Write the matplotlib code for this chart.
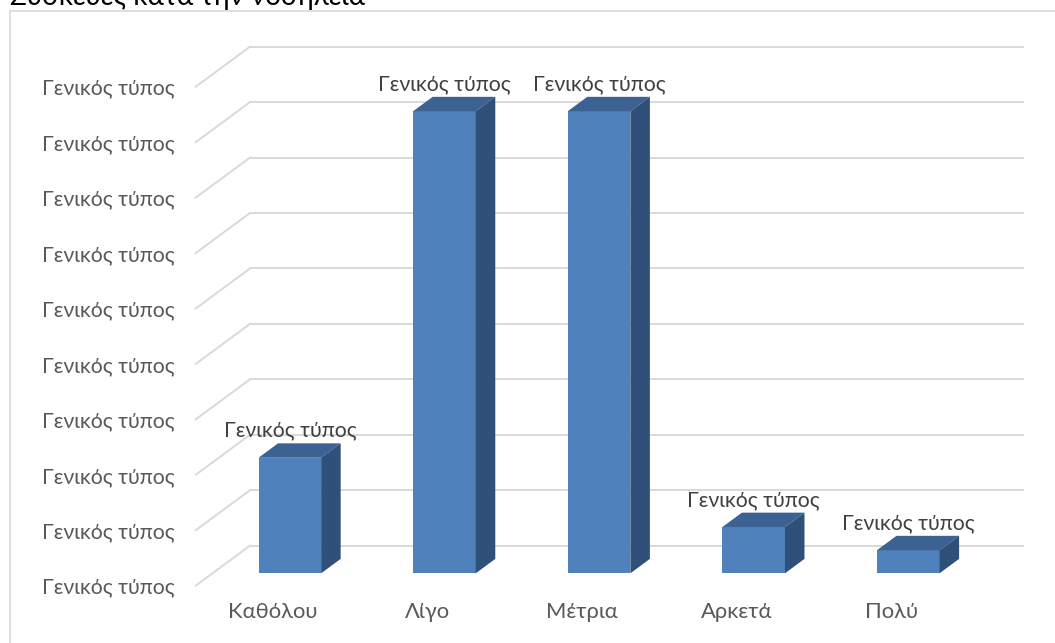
import matplotlib
matplotlib.use("Agg")
import matplotlib.pyplot as plt
from matplotlib.patches import Polygon, Rectangle

# ---- data ----
categories = ["Καθόλου", "Λίγο", "Μέτρια", "Αρκετά", "Πολύ"]
values = [10.42, 41.67, 41.67, 4.17, 2.08]          # percent
y_ticks = [0, 5, 10, 15, 20, 25, 30, 35, 40, 45]
tick_label = "Γενικός τύπος"
data_label = "Γενικός τύπος"
title = "Συσκευές κατά την νοσηλεία"

# ---- style / 3D geometry ----
FONT = ["Lato", "DejaVu Sans"]
TXT = "#595959"
GRID = "#D9D9D9"
FRONT = "#4F81BD"
TOP = "#3B6292"
SIDE = "#2F5079"
depth_dx = 0.351      # category units
depth_dy = 3.61       # value units
f0, f1 = 0.31, 0.67   # bar depth range (fraction of floor depth)
bar_w = 0.405
FS = 15.3

W, H = 1055, 643
fig = plt.figure(figsize=(W / 100, H / 100), dpi=100)
ax = fig.add_axes([195.7 / W, (H - 585.7) / H, (1023 - 195.7) / W, (585.7 - 46.7) / H])
n = len(categories)
ax.set_xlim(-0.5, n - 0.5 + depth_dx)
ax.set_ylim(0, y_ticks[-1] + depth_dy)
for s in ax.spines.values():
    s.set_visible(False)

# gridlines: back wall + left wall diagonals
for t in y_ticks:
    ax.plot([-0.5 + depth_dx, n - 0.5 + depth_dx], [t + depth_dy, t + depth_dy],
            color=GRID, lw=1.4, clip_on=False, zorder=1)
    ax.plot([-0.5, -0.5 + depth_dx], [t, t + depth_dy],
            color=GRID, lw=1.4, clip_on=False, zorder=1)

# bars
bdx0, bdy0 = f0 * depth_dx, f0 * depth_dy
ddx, ddy = (f1 - f0) * depth_dx, (f1 - f0) * depth_dy
for i, v in enumerate(values):
    xc = i + bdx0
    xl, xr = xc - bar_w / 2, xc + bar_w / 2
    b, t = bdy0, bdy0 + v
    ax.bar(xc, v, width=bar_w, bottom=b, color=FRONT, zorder=3, linewidth=0)
    ax.add_patch(Polygon([(xl, t), (xr, t), (xr + ddx, t + ddy), (xl + ddx, t + ddy)],
                         closed=True, facecolor=TOP, edgecolor="none", zorder=3))
    ax.add_patch(Polygon([(xr, b), (xr, t), (xr + ddx, t + ddy), (xr + ddx, b + ddy)],
                         closed=True, facecolor=SIDE, edgecolor="none", zorder=3))
    ax.annotate(data_label, (xc, t), xytext=(0, 27), textcoords="offset pixels",
                ha="center", va="center", fontsize=FS, color="#404040",
                family=FONT, zorder=4)

ax.set_yticks(y_ticks)
ax.set_yticklabels([tick_label] * len(y_ticks), family=FONT, fontsize=FS, color=TXT)
ax.set_xticks(range(n))
ax.set_xticklabels(categories, family=FONT, fontsize=FS + 0.5, color=TXT)
ax.tick_params(axis="y", length=0, pad=15)
ax.tick_params(axis="x", length=0, pad=12)

# chart border and title (clipped at the top edge, as in the reference)
fig.patches.append(Rectangle((9.5 / W, -0.1), 2, (H - 10.5) / H + 0.1, transform=fig.transFigure,
                             fill=False, edgecolor=GRID, lw=1.2))
fig.text(10 / W, 1 - 5 / H, title, ha="left", va="baseline", fontsize=20,
         color="#000000", family=FONT)

fig.savefig("out.png", dpi=100)
